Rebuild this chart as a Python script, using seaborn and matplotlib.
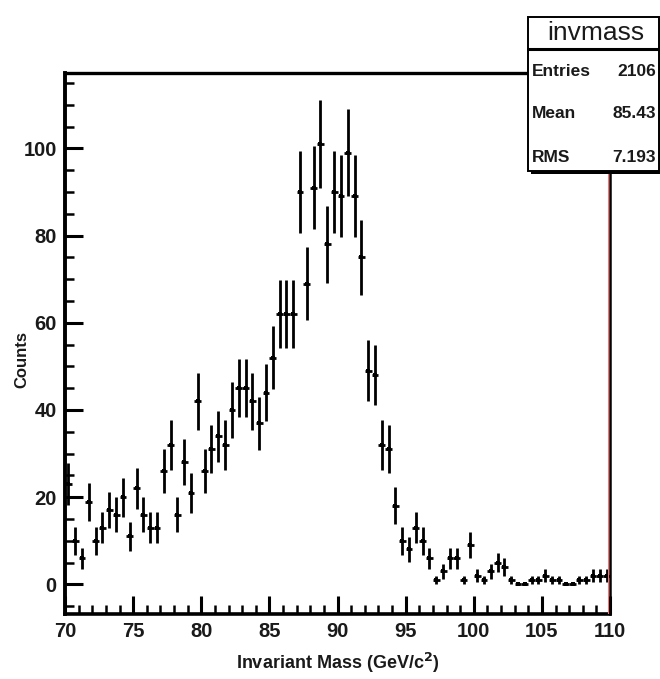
import numpy as np
import pandas as pd
import matplotlib
matplotlib.use("Agg")
import matplotlib.pyplot as plt
import seaborn as sns
from matplotlib.patches import Rectangle
from matplotlib.lines import Line2D
from matplotlib.ticker import MultipleLocator

# ---------------- data ----------------
x_low = 70.0
x_high = 110.0
n_bins = 80
counts = [23, 10, 6, 19, 10, 13, 17, 16, 20, 11,
          22, 16, 13, 13, 26, 32, 16, 28, 21, 42,
          26, 31, 34, 32, 40, 45, 45, 42, 37, 44,
          52, 62, 62, 62, 90, 69, 91, 101, 78, 90,
          89, 99, 89, 75, 49, 48, 32, 31, 18, 10,
          8, 13, 10, 6, 1, 3, 6, 6, 1, 9,
          2, 1, 3, 5, 4, 1, 0, 0, 1, 1,
          2, 1, 1, 0, 0, 1, 1, 2, 2, 2]
x_ticks = [70, 75, 80, 85, 90, 95, 100, 105, 110]
y_ticks = [0, 20, 40, 60, 80, 100]
stats_title = "invmass"
stats_names = ["Entries", "Mean", "RMS"]
stats_values = ["2106", "85.43", "7.193"]
x_title = "Invariant Mass (GeV/c$^{\\mathbf{2}}$)"
y_title = "Counts"

edges = np.linspace(x_low, x_high, n_bins + 1)
centers = 0.5 * (edges[:-1] + edges[1:])
half_w = 0.5 * (edges[1] - edges[0])
df = pd.DataFrame({"mass": centers, "counts": counts})
df["err"] = np.sqrt(df["counts"])

# ---------------- style ----------------
sns.set_style("white")
plt.rcParams["font.family"] = ["Liberation Sans", "DejaVu Sans"]
plt.rcParams["mathtext.default"] = "bf"

W, H = 660, 679
fig = plt.figure(figsize=(W / 100, H / 100), dpi=100)

def fx(px):
    return px / W

def fy(py):
    return 1 - py / H

ax_l, ax_r, ax_t, ax_b = 65, 610, 73, 614
ax = fig.add_axes([fx(ax_l), fy(ax_b), fx(ax_r - ax_l), fy(ax_t) - fy(ax_b)])

ax.errorbar(df["mass"], df["counts"], xerr=half_w, yerr=df["err"],
            fmt="none", ecolor="black", elinewidth=2.0, capsize=0, zorder=3)
sns.scatterplot(data=df, x="mass", y="counts", ax=ax, marker="s", s=8,
                color="black", edgecolor="black", linewidth=0, zorder=4,
                legend=False)

ax.set_xlim(x_low, x_high)
ax.set_ylim(-6.8, 117.3)
ax.set_xticks(x_ticks)
ax.set_yticks(y_ticks)
ax.xaxis.set_minor_locator(MultipleLocator(1))
ax.yaxis.set_minor_locator(MultipleLocator(5))
ax.tick_params(axis="both", which="major", direction="in", length=13,
               width=2.2, color="black", labelsize=14.5, labelcolor="#1a1a1a")
ax.tick_params(axis="both", which="minor", direction="in", length=6.5,
               width=1.8, color="black")
ax.tick_params(axis="x", which="both", bottom=True, top=False, pad=6)
ax.tick_params(axis="y", which="both", left=True, right=False, pad=6)
for lab in ax.get_xticklabels() + ax.get_yticklabels():
    lab.set_fontweight("bold")

for side, lw in [("left", 2.8), ("bottom", 2.6), ("top", 2.4), ("right", 1.8)]:
    ax.spines[side].set_visible(True)
    ax.spines[side].set_linewidth(lw)
    ax.spines[side].set_color("black")

ax.axvline(x_high - 0.14, color="#ff7070", lw=0.8, zorder=5)

ax.set_xlabel(x_title, fontsize=13, fontweight="bold", color="#1a1a1a")
ax.set_ylabel(y_title, fontsize=12, fontweight="bold", color="#1a1a1a")
ax.xaxis.set_label_coords(0.5, -0.068)
ax.yaxis.set_label_coords(-0.066, 0.47)

# ---------------- stats box ----------------
bx_l, bx_r, bx_t, bx_b = 528, 659, 17, 171
sh = 3
fig.patches.append(Rectangle((fx(bx_l + sh), fy(bx_b + sh)), fx(bx_r - bx_l), fy(bx_t) - fy(bx_b),
                             transform=fig.transFigure, facecolor="black", edgecolor="black",
                             lw=0, zorder=10))
fig.patches.append(Rectangle((fx(bx_l), fy(bx_b)), fx(bx_r - bx_l), fy(bx_t) - fy(bx_b),
                             transform=fig.transFigure, facecolor="white", edgecolor="black",
                             lw=1.4, zorder=11))
fig.lines.append(Line2D([fx(bx_l), fx(bx_r)], [fy(49), fy(49)], transform=fig.transFigure,
                        color="black", lw=2.2, zorder=12))
fig.text(fx(596), fy(33), stats_title, ha="center", va="center", fontsize=19,
         color="#1a1a1a", zorder=13)
for i, (nm, val) in enumerate(zip(stats_names, stats_values)):
    yy = [71, 114, 157][i]
    fig.text(fx(532), fy(yy), nm, ha="left", va="center", fontsize=12.5,
             fontweight="bold", color="#1a1a1a", zorder=13)
    fig.text(fx(656), fy(yy), val, ha="right", va="center", fontsize=12.5,
             fontweight="bold", color="#1a1a1a", zorder=13)

fig.savefig("out.png", dpi=100)
